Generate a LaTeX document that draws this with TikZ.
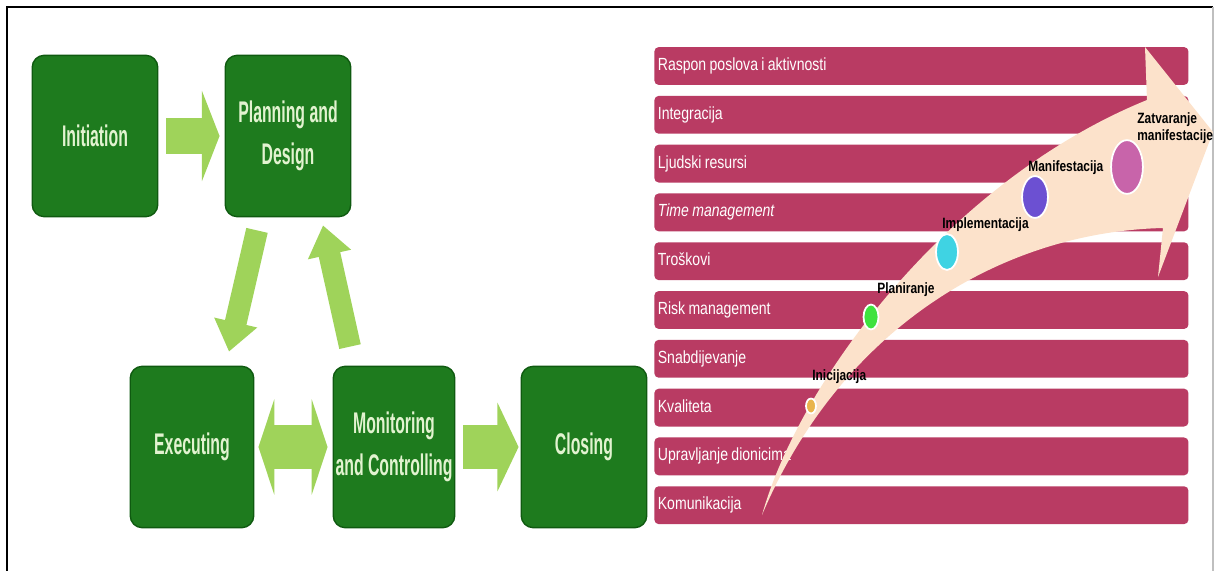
\documentclass[tikz,border=0pt]{standalone}
\usepackage{fontspec}
\usetikzlibrary{arrows.meta,calc,shapes.geometric}

\newfontfamily\phasefont[FakeStretch=0.53]{Liberation Sans}
\newfontfamily\areafont[FakeStretch=0.8]{Liberation Sans}

\newlength{\unitpx}
\setlength{\unitpx}{0.5669pt}

\definecolor{boxgreen}{HTML}{1E7B1E}
\definecolor{boxedge}{HTML}{0F5A10}
\definecolor{phasetext}{HTML}{E2F3D0}
\definecolor{arrowgreen}{HTML}{9FD35A}
\definecolor{barpink}{HTML}{B93B63}
\definecolor{peach}{HTML}{FCE2CB}
\definecolor{dotinic}{HTML}{E9B44C}
\definecolor{dotplan}{HTML}{3FE23F}
\definecolor{dotimpl}{HTML}{3FD3E3}
\definecolor{dotmanif}{HTML}{6C50D2}
\definecolor{dotzatv}{HTML}{C864AA}

\begin{document}
\begin{tikzpicture}[x=0.02cm,y=-0.02cm]

    \tikzset{
      phase/.style={
        rectangle,
        rounded corners=12\unitpx,
        fill=boxgreen,
        draw=boxedge,
        line width=0.8pt,
        minimum width=126\unitpx,
        minimum height=162\unitpx,
        inner sep=1pt,
        align=center,
        text=phasetext,
        font=\phasefont\bfseries\fontsize{17}{24}\selectfont,
      },
      fatarrow/.style={
        draw=arrowgreen,
        line width=21pt,
        -{Triangle[width=51pt,length=10pt]},
      },
      slimarrow/.style={
        draw=arrowgreen,
        line width=12.5pt,
        -{Triangle[width=24pt,length=17pt]},
      },
      areabar/.style={
        rectangle,
        anchor=west,
        rounded corners=2.5pt,
        fill=barpink,
        text=white,
        inner xsep=2pt,
        text width=300pt,
        minimum height=38\unitpx,
        text height=7.2pt,
        text depth=2pt,
        align=left,
        font=\areafont\fontsize{10}{12}\selectfont,
      },
      milestone/.style={
        ellipse,
        draw=white,
        line width=1pt,
        inner sep=0pt,
      },
      mlabel/.style={
        anchor=west,
        inner sep=0pt,
        align=left,
        text=black,
        font=\areafont\bfseries\fontsize{8.5}{9.5}\selectfont,
      },
    }

    \useasboundingbox (0,0) rectangle (1215,571);

	 \draw[line width=1.2pt] (7,571) -- (7,7) -- (1213,7);

	 \draw[line width=0.8pt,black!25] (1213,7) -- (1213,571);

	 \node[phase] (init) at (95,136) {Initiation};

	 \node[phase] (plan) at (288,136) {Planning and\\Design};

	 \node[phase, minimum width=124\unitpx] (exec) at (192,447) {Executing};

	 \node[phase, minimum width=122\unitpx] (monit) at (394,447) {Monitoring\\and Controlling};

	 \node[phase] (close) at (584,447) {Closing};

	 \draw[fatarrow] ($(init.east)+(8,0)$) -- ($(plan.west)+(-5,0)$);

	 \draw[slimarrow] ($(plan.south)+(-31,13)$) -- ($(exec.north)+(37,-14)$);

	 \draw[slimarrow] ($(monit.north)+(-44,-19)$) -- ($(plan.south)+(35,8)$);

	 \draw[fatarrow, line width=25pt, {Triangle[width=54pt,length=9pt]}-{Triangle[width=54pt,length=9pt]}] ($(exec.east)+(4,0)$) -- ($(monit.west)+(-5,0)$);

	 \draw[fatarrow, line width=25pt, -{Triangle[width=50pt,length=12pt]}] ($(monit.east)+(8,0)$) -- ($(close.west)+(-2,0)$);

	 \foreach \area [count=\i from 0] in {Raspon poslova i aktivnosti, Integracija, Ljudski resursi, {\itshape Time management}, Troškovi, Risk management, Snabdijevanje, Kvaliteta, Upravljanje dionicima, Komunikacija}
	   \node[areabar] (area\i) at (654,{66+48.8*\i}) {\spaceskip=1.9pt plus 0.5pt\relax\area};

	 \fill[peach] (762,515) .. controls (800,380) and (950,180) .. (1147,100) -- (1145,47) -- (1213,132) -- (1158,277) -- (1163,228) .. controls (1000,232) and (840,330) .. cycle;

	 \node[milestone, fill=dotinic, minimum width=10\unitpx, minimum height=15\unitpx] (inic) at (811,406) {};

	 \node[milestone, fill=dotplan, minimum width=15\unitpx, minimum height=25\unitpx] (plani) at (871,317) {};

	 \node[milestone, fill=dotimpl, minimum width=22\unitpx, minimum height=36\unitpx] (impl) at (947,252) {};

	 \node[milestone, fill=dotmanif, minimum width=26\unitpx, minimum height=42\unitpx] (manif) at (1035,197) {};

	 \node[milestone, fill=dotzatv, minimum width=32\unitpx, minimum height=54\unitpx] (zatv) at (1127,167) {};

	 \node[mlabel] (inic label) at (812,377) {Inicijacija};

	 \node[mlabel] (plani label) at (877,290) {Planiranje};

	 \node[mlabel] (impl label) at (942,225) {Implementacija};

	 \node[mlabel] (manif label) at (1028,168) {Manifestacija};

	 \node[mlabel] (zatv label) at (1137,128) {Zatvaranje\\manifestacije};

\end{tikzpicture}
\end{document}
